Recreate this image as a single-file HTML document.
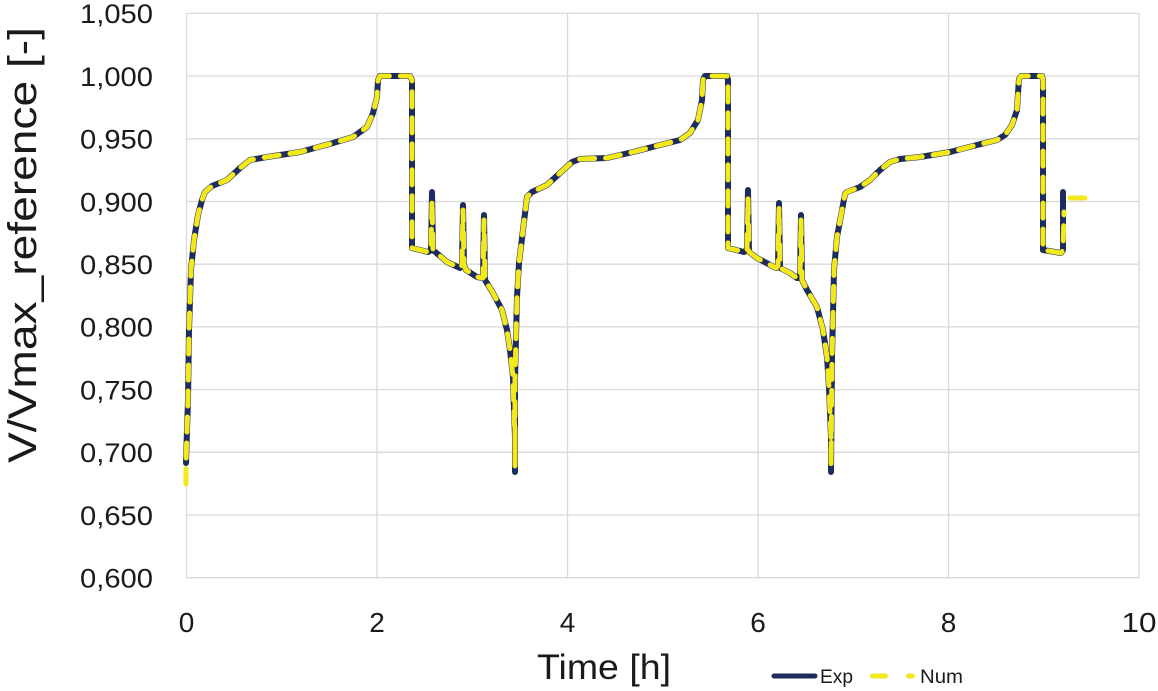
<!DOCTYPE html>
<html><head><meta charset="utf-8"><style>
html,body{margin:0;padding:0;background:#fff;}
svg{display:block;}
text{font-family:"Liberation Sans",sans-serif;fill:#1a1a1a;}
</style></head><body>
<svg width="1158" height="691" viewBox="0 0 1158 691" xmlns="http://www.w3.org/2000/svg">
<rect width="1158" height="691" fill="#fff"/>
<g stroke="#d9d9d9" stroke-width="1.3" fill="none">
<line x1="186.5" y1="13.4" x2="1139" y2="13.4"/>
<line x1="186.5" y1="76.1" x2="1139" y2="76.1"/>
<line x1="186.5" y1="138.8" x2="1139" y2="138.8"/>
<line x1="186.5" y1="201.5" x2="1139" y2="201.5"/>
<line x1="186.5" y1="264.2" x2="1139" y2="264.2"/>
<line x1="186.5" y1="326.9" x2="1139" y2="326.9"/>
<line x1="186.5" y1="389.6" x2="1139" y2="389.6"/>
<line x1="186.5" y1="452.3" x2="1139" y2="452.3"/>
<line x1="186.5" y1="515.0" x2="1139" y2="515.0"/>
<line x1="186.5" y1="577.7" x2="1139" y2="577.7"/>
<line x1="186.5" y1="13.4" x2="186.5" y2="577.7"/>
<line x1="377" y1="13.4" x2="377" y2="577.7"/>
<line x1="567.5" y1="13.4" x2="567.5" y2="577.7"/>
<line x1="758" y1="13.4" x2="758" y2="577.7"/>
<line x1="948.5" y1="13.4" x2="948.5" y2="577.7"/>
<line x1="1139" y1="13.4" x2="1139" y2="577.7"/>
</g>
<g font-size="27" text-anchor="end">
<text x="153" y="23.2" textLength="73" lengthAdjust="spacingAndGlyphs">1,050</text>
<text x="153" y="85.9" textLength="73" lengthAdjust="spacingAndGlyphs">1,000</text>
<text x="153" y="148.6" textLength="73" lengthAdjust="spacingAndGlyphs">0,950</text>
<text x="153" y="211.3" textLength="73" lengthAdjust="spacingAndGlyphs">0,900</text>
<text x="153" y="274.0" textLength="73" lengthAdjust="spacingAndGlyphs">0,850</text>
<text x="153" y="336.7" textLength="73" lengthAdjust="spacingAndGlyphs">0,800</text>
<text x="153" y="399.4" textLength="73" lengthAdjust="spacingAndGlyphs">0,750</text>
<text x="153" y="462.1" textLength="73" lengthAdjust="spacingAndGlyphs">0,700</text>
<text x="153" y="524.8" textLength="73" lengthAdjust="spacingAndGlyphs">0,650</text>
<text x="153" y="587.5" textLength="73" lengthAdjust="spacingAndGlyphs">0,600</text>
</g>
<g font-size="28" text-anchor="middle">
<text x="186.5" y="632">0</text>
<text x="377" y="632">2</text>
<text x="567.5" y="632">4</text>
<text x="758" y="632">6</text>
<text x="948.5" y="632">8</text>
<text x="1139" y="632" textLength="35" lengthAdjust="spacingAndGlyphs">10</text>
</g>
<text x="537" y="679" font-size="35" textLength="134" lengthAdjust="spacingAndGlyphs">Time [h]</text>
<text transform="translate(36,463) rotate(-90)" x="0" y="0" font-size="40" textLength="436" lengthAdjust="spacingAndGlyphs">V/Vmax_reference [-]</text>

<path fill="none" stroke="#1e2b5f" stroke-width="6" stroke-linejoin="round" stroke-linecap="round" d="M186,463 L187,430 L188,400 L189,330 L191,270 L194,240 L198,215 L202,200 L205,192 L212,186 L222,182 L227,180 L240,168 L250,160 L267,157 L300,152 L333,143 L353,137 L367,127 L373,113 L377,97 L378,80 L380,76 L410,76 L412,80 L412,248 L428,252 L431,250 L432,192 L433,250 L447,262 L460,268 L462,265 L463,205 L464,265 L466,270 L477,277 L483,278 L484,215 L485,280 L493,293 L502,310 L507,330 L510,350 L513,377 L514,410 L515,437 L515,472 L515,380 L516,337 L517,297 L519,263 L523,230 L527,197 L532,192 L547,185 L560,173 L572,162 L580,159 L607,158 L633,152 L660,145 L680,140 L690,133 L698,120 L702,100 L703,80 L705,76 L727,76 L728,80 L728,248 L744,252 L747,250 L748,190 L749,252 L757,258 L776,268 L778,266 L779,203 L780,268 L790,273 L797,278 L800,278 L801,215 L802,280 L807,290 L817,307 L823,330 L827,357 L829,387 L831,437 L831,472 L832,357 L834,270 L837,237 L842,210 L845,194 L847,192 L860,187 L870,180 L880,170 L890,162 L900,159 L920,157 L950,152 L977,145 L997,140 L1005,135 L1012,125 L1017,110 L1018,93 L1019,79 L1021,76 L1042,76 L1043,80 L1043,250 L1061,253 L1063,250 L1063,192"/>

<path fill="none" stroke="#f2e81a" stroke-width="5" stroke-linejoin="round" stroke-linecap="round" stroke-dasharray="15 11" d="M186,484 L186,463 L187,430 L188,400 L189,330 L191,270 L194,240 L198,215 L202,200 L205,192 L212,186 L222,182 L227,180 L240,168 L250,160 L267,157 L300,152 L333,143 L353,137 L367,127 L373,113 L377,97 L378,80 L380,76 L410,76 L412,80 L412,248 L428,252 L431,250 L432,200 L433,250 L447,262 L460,268 L462,265 L463,210 L464,265 L466,270 L477,277 L483,278 L484,220 L485,280 L493,293 L502,310 L507,330 L510,350 L513,377 L514,410 L515,437 L515,466 L515,380 L516,337 L517,297 L519,263 L523,230 L527,197 L532,192 L547,185 L560,173 L572,162 L580,159 L607,158 L633,152 L660,145 L680,140 L690,133 L698,120 L702,100 L703,80 L705,76 L727,76 L728,80 L728,248 L744,252 L747,250 L748,198 L749,252 L757,258 L776,268 L778,266 L779,208 L780,268 L790,273 L797,278 L800,278 L801,220 L802,280 L807,290 L817,307 L823,330 L827,357 L829,387 L831,437 L831,466 L832,357 L834,270 L837,237 L842,210 L845,194 L847,192 L860,187 L870,180 L880,170 L890,162 L900,159 L920,157 L950,152 L977,145 L997,140 L1005,135 L1012,125 L1017,110 L1018,93 L1019,79 L1021,76 L1042,76 L1043,80 L1043,250 L1061,253 L1063,250 L1064,212"/>
<line x1="1070" y1="198" x2="1085" y2="198" stroke="#f2e81a" stroke-width="5" stroke-linecap="round"/>

<line x1="774" y1="676" x2="815" y2="676" stroke="#1e2b5f" stroke-width="5" stroke-linecap="round"/>
<text x="820" y="683" font-size="19" textLength="33" lengthAdjust="spacingAndGlyphs">Exp</text>
<line x1="872.5" y1="676" x2="885.5" y2="676" stroke="#f2e81a" stroke-width="5" stroke-linecap="round"/>
<line x1="908.5" y1="676" x2="912.5" y2="676" stroke="#f2e81a" stroke-width="5" stroke-linecap="round"/>
<text x="920" y="683" font-size="19" textLength="43" lengthAdjust="spacingAndGlyphs">Num</text>
</svg>
</body></html>
